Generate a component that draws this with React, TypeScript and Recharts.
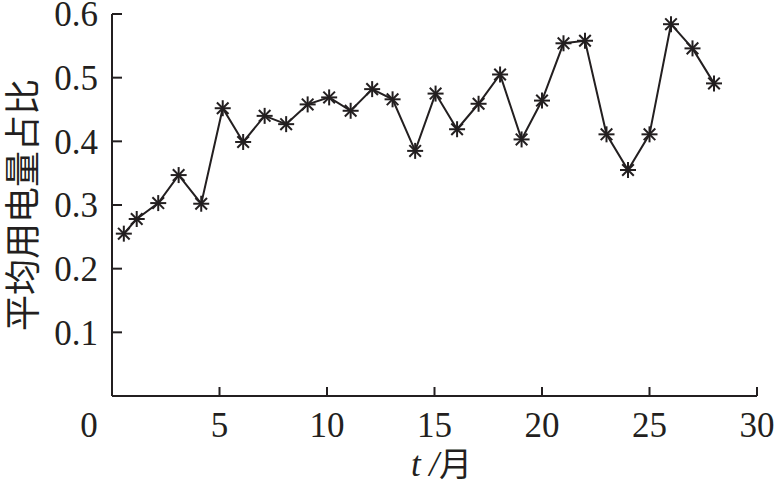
import { Line, LineChart, XAxis, YAxis } from 'recharts';

const INK = '#231f20';
const NUM_FONT = '"Liberation Serif", "DejaVu Serif", serif';
const CJK_FONT = '"Noto Sans CJK SC", "Liberation Serif", serif';

// 月份（横坐标）与平均用电量占比
const months = [0.55, 1.15, 2.15, 3.1, 4.15, 5.15, 6.1, 7.1, 8.1, 9.1, 10.1, 11.1, 12.1, 13.05, 14.1, 15.05, 16.05, 17.05, 18.05, 19.05, 20, 21, 22, 23, 24, 25, 26, 27, 28];
const ratios = [0.255, 0.278, 0.303, 0.347, 0.302, 0.452, 0.399, 0.44, 0.427, 0.458, 0.469, 0.448, 0.482, 0.466, 0.385, 0.475, 0.419, 0.459, 0.505, 0.403, 0.464, 0.554, 0.558, 0.411, 0.355, 0.411, 0.584, 0.546, 0.491];
const xTicks = [0, 5, 10, 15, 20, 25, 30];
const yTicks = [0.1, 0.2, 0.3, 0.4, 0.5, 0.6];

const data = months.map((t, i) => ({ t, ratio: ratios[i] }));

function StarDot({ cx, cy }: any) {
  if (cx == null || cy == null) return null;
  const r = 8;
  const d = 5.8;
  return (
    <g stroke={INK} strokeWidth={2}>
      <line x1={cx} y1={cy - r} x2={cx} y2={cy + r} />
      <line x1={cx - r} y1={cy} x2={cx + r} y2={cy} />
      <line x1={cx - d} y1={cy - d} x2={cx + d} y2={cy + d} />
      <line x1={cx - d} y1={cy + d} x2={cx + d} y2={cy - d} />
    </g>
  );
}

function XTick({ x, y, payload }: any) {
  const shift = payload.value === 0 ? -23 : 0;
  return (
    <g>
      {payload.value !== 0 && <line x1={x} y1={396} x2={x} y2={387} stroke={INK} strokeWidth={2} />}
      <text x={x + shift} y={y} dy="0.71em" textAnchor="middle" fontFamily={NUM_FONT} fontSize={35} fill={INK}>
        {payload.value}
      </text>
    </g>
  );
}

function YTick({ x, y, payload }: any) {
  return (
    <g>
      <line x1={x} y1={y} x2={x + 10} y2={y} stroke={INK} strokeWidth={2} />
      <text x={x - 14} y={y} dy="0.35em" textAnchor="end" fontFamily={NUM_FONT} fontSize={35} fill={INK}>
        {payload.value.toFixed(1)}
      </text>
    </g>
  );
}

export default function App() {
  return (
    <div style={{ width: 779, height: 492 }}>
      <style>{'body{margin:0}'}</style>
      <LineChart width={779} height={492} data={data} margin={{ top: 14, right: 22, bottom: 0, left: 0 }}>
        <XAxis
          type="number"
          dataKey="t"
          domain={[0, 30]}
          ticks={xTicks}
          height={96}
          axisLine={{ stroke: INK, strokeWidth: 2 }}
          tickLine={false}
          tickSize={0}
          tickMargin={16}
          tick={<XTick />}
          label={({ viewBox }: any) => (
            <text
              x={viewBox.x + viewBox.width / 2 + 7}
              y={viewBox.y + 80}
              textAnchor="middle"
              fontSize={35}
              fill={INK}
            >
              <tspan fontFamily={NUM_FONT} fontStyle="italic">t /</tspan>
              <tspan fontFamily={CJK_FONT} fontSize={33}>月</tspan>
            </text>
          )}
        />
        <YAxis
          type="number"
          domain={[0, 0.6]}
          ticks={yTicks}
          width={112}
          axisLine={{ stroke: INK, strokeWidth: 2 }}
          tickLine={false}
          tickSize={0}
          tickMargin={0}
          tick={<YTick />}
          label={({ viewBox }: any) => {
            const cx = 20;
            const cy = viewBox.y + viewBox.height / 2;
            return (
              <text
                x={cx}
                y={cy}
                transform={`rotate(-90 ${cx} ${cy})`}
                textAnchor="middle"
                dominantBaseline="central"
                fontFamily={CJK_FONT}
                fontSize={36}
                fill={INK}
              >
                平均用电量占比
              </text>
            );
          }}
        />
        <Line
          type="linear"
          dataKey="ratio"
          stroke={INK}
          strokeWidth={2}
          dot={<StarDot />}
          activeDot={false}
          isAnimationActive={false}
        />
      </LineChart>
    </div>
  );
}
